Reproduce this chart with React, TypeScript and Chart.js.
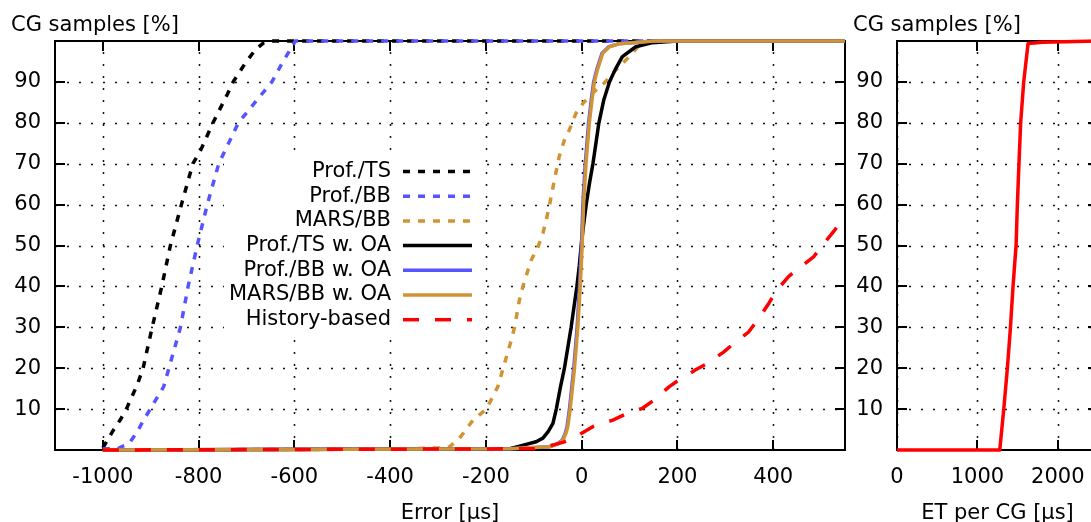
import React, { useEffect, useRef } from 'react';
import { Chart, registerables } from 'chart.js';

Chart.register(...registerables);

const FONT_FAMILY = '"DejaVu Sans", Verdana, sans-serif';
const FONT_SIZE = 21;

// ---- Left panel: Error [µs] vs CG samples [%] ----
const profTsX = [-1000, -980, -963, -951, -928, -916, -897, -877, -859, -836, -812, -795, -770, -740, -728, -703, -682, -665, -650, 550];
const profTsY = [0.5, 4.5, 7.5, 10, 16, 20, 30, 40, 50, 60, 70, 73.5, 80, 87, 90, 94.5, 97.8, 99.5, 100, 100];

const profBbX = [-1000, -970, -945, -928, -915, -901, -873, -862, -838, -822, -803, -782, -758, -717, -678, -647, -626, -598, 550];
const profBbY = [0.3, 0.3, 1.6, 4.5, 7.3, 10, 15.5, 20, 30, 40, 50, 60, 70, 80, 85.6, 90, 94.5, 100, 100];

const marsBbX = [-1000, -400, -300, -276, -255, -227, -199, -175, -161, -147, -140, -130, -122, -112, -105, -91, -81, -74, -67, -57, -47, -36, -26, -12, 3, 16, 30, 47, 65, 85, 106, 120, 150, 550];
const marsBbY = [0, 0.2, 0.5, 0.8, 2.9, 7.3, 10, 15.5, 21.2, 26.9, 30.1, 36.7, 40.3, 44, 46.5, 49.7, 53, 56.2, 60, 66, 71.7, 75.8, 78.2, 82.3, 84.8, 86.4, 88, 89.7, 92.1, 94.5, 97, 99, 100, 100];

const profTsOaX = [-1000, -150, -122, -95, -81, -70, -60, -53, -45, -36, -29, -22, -16, -10, -5, -1, 4, 9.5, 16, 23.5, 36, 46, 58, 70, 85, 113, 148, 200, 550];
const profTsOaY = [0, 0.3, 1.2, 2, 2.9, 4.5, 6.5, 10, 15, 20, 25, 30, 35, 40, 45, 50, 55, 60, 65, 70, 80, 85.5, 90, 93, 96.2, 98.6, 99.6, 100, 100];

const profBbOaX = [-1000, -150, -67, -51, -40.5, -34.5, -30.5, -25.5, -16.5, -9.5, -4.5, -0.5, 2.5, 7.5, 14.5, 20.5, 25, 31.5, 42.5, 56.5, 77, 105, 150, 550];
const profBbOaY = [0, 0.3, 0.8, 1.5, 2.4, 4, 5.7, 10, 20, 30, 40, 50, 60, 70, 80, 86, 90, 93, 97, 98.6, 99.3, 99.6, 100, 100];

const marsBbOaX = [-1000, -150, -67, -50, -39, -33, -29, -24, -15, -8, -3, 1, 4, 9, 16, 22, 26.5, 33, 44, 58, 78, 106, 150, 550];
const marsBbOaY = [0, 0.3, 0.8, 1.5, 2.4, 4, 5.7, 10, 20, 30, 40, 50, 60, 70, 80, 86, 90, 93, 97, 98.6, 99.3, 99.6, 100, 100];

const historyX = [-1000, -100, -60, -36, -15, 0, 23, 65, 89, 127, 151, 183, 203, 238, 263, 297, 318, 349, 370, 391, 408, 432, 453, 485, 506, 526, 550];
const historyY = [0, 0.3, 1.2, 2, 3, 4.1, 5.7, 7.3, 8.6, 10.2, 12.2, 15.5, 17.1, 19.6, 21.2, 24, 26.1, 28.9, 32.2, 35.9, 39.1, 42.4, 44.4, 47.3, 50.5, 53.4, 57];

// ---- Right panel: ET per CG [µs] vs CG samples [%] ----
const etX = [0, 1278, 1328, 1373, 1411, 1443, 1481, 1497, 1517, 1538, 1576, 1630, 1815, 2500];
const etY = [0, 0, 10, 20, 30, 40, 50, 60, 70, 80, 90, 99.4, 99.7, 100];

// ---- Ticks & labels ----
const errorTicks = [-1000, -800, -600, -400, -200, 0, 200, 400];
const etTicks = [0, 1000, 2000];
const pctTicks = [10, 20, 30, 40, 50, 60, 70, 80, 90];

const seriesNames = ['Prof./TS', 'Prof./BB', 'MARS/BB', 'Prof./TS w. OA', 'Prof./BB w. OA', 'MARS/BB w. OA', 'History-based'];
const seriesX = [profTsX, profBbX, marsBbX, profTsOaX, profBbOaX, marsBbOaX, historyX];
const seriesY = [profTsY, profBbY, marsBbY, profTsOaY, profBbOaY, marsBbOaY, historyY];

// styles
const seriesColors = ['#000000', '#5555ff', '#d09434', '#000000', '#5555ff', '#d09434', '#ff0000'];
const seriesDash: number[][] = [[7, 8], [7, 8], [7, 8], [], [], [], [16, 16]];

function pts(xs: number[], ys: number[]) {
  return xs.map((x, i) => ({ x, y: ys[i] }));
}

const font = { family: FONT_FAMILY, size: FONT_SIZE };

function makeDecor(xTitle: string, withLegend: boolean) {
  return {
    id: 'decor',
    beforeDatasetsDraw(chart: any) {
      const { ctx, chartArea: a } = chart;
      const xs = chart.scales.x;
      const ys = chart.scales.y;
      ctx.save();
      // dotted grid
      ctx.strokeStyle = '#111';
      ctx.lineWidth = 1.5;
      ctx.setLineDash([2, 10]);
      for (const t of xs.ticks) {
        const px = Math.round(xs.getPixelForValue(t.value)) + 0.5;
        ctx.beginPath();
        ctx.moveTo(px, a.bottom);
        ctx.lineTo(px, a.top);
        ctx.stroke();
      }
      for (const t of ys.ticks) {
        const py = Math.round(ys.getPixelForValue(t.value)) + 0.5;
        ctx.beginPath();
        ctx.moveTo(a.left, py);
        ctx.lineTo(a.right, py);
        ctx.stroke();
      }
      ctx.setLineDash([]);

      if (withLegend) {
        const rows = [171.5, 196.2, 220.9, 245.6, 270.3, 295, 319.7];
        ctx.fillStyle = '#fff';
        ctx.fillRect(224, 160, 258, 171);
        ctx.font = `${FONT_SIZE}px ${FONT_FAMILY}`;
        ctx.textAlign = 'right';
        ctx.textBaseline = 'middle';
        seriesNames.forEach((name, i) => {
          ctx.fillStyle = '#000';
          ctx.fillText(name, 391, rows[i]);
          ctx.strokeStyle = seriesColors[i];
          ctx.lineWidth = 3.5;
          ctx.lineCap = 'butt';
          ctx.setLineDash(seriesDash[i]);
          ctx.beginPath();
          ctx.moveTo(403, rows[i]);
          ctx.lineTo(472, rows[i]);
          ctx.stroke();
        });
        ctx.setLineDash([]);
      }

      // frame
      ctx.strokeStyle = '#000';
      ctx.lineWidth = 2;
      ctx.strokeRect(a.left, a.top, a.right - a.left, a.bottom - a.top);
      // inward tick marks (mirrored)
      const L = 10;
      ctx.beginPath();
      for (const t of xs.ticks) {
        const px = Math.round(xs.getPixelForValue(t.value));
        ctx.moveTo(px, a.bottom);
        ctx.lineTo(px, a.bottom - L);
        ctx.moveTo(px, a.top);
        ctx.lineTo(px, a.top + L);
      }
      for (const t of ys.ticks) {
        const py = Math.round(ys.getPixelForValue(t.value));
        ctx.moveTo(a.left, py);
        ctx.lineTo(a.left + L, py);
        ctx.moveTo(a.right, py);
        ctx.lineTo(a.right - L, py);
      }
      ctx.stroke();

      // titles
      ctx.fillStyle = '#000';
      ctx.font = `${FONT_SIZE}px ${FONT_FAMILY}`;
      ctx.textBaseline = 'alphabetic';
      ctx.textAlign = 'left';
      ctx.fillText('CG samples [%]', a.left - 44, 30.5);
      ctx.textAlign = 'center';
      ctx.fillText(xTitle, (a.left + a.right) / 2, 519);
      ctx.restore();
    },
  };
}

function makeScales(min: number, max: number, xTicks: number[], yWidth: number) {
  return {
    x: {
      type: 'linear' as const,
      min,
      max,
      afterBuildTicks: (s: any) => {
        s.ticks = xTicks.map((v) => ({ value: v }));
      },
      afterFit: (s: any) => {
        s.height = 72;
      },
      grid: { display: false, drawTicks: false },
      border: { display: false },
      ticks: {
        autoSkip: false,
        maxRotation: 0,
        minRotation: 0,
        padding: 15,
        color: '#000',
        font,
        callback: (v: any) => String(v),
      },
    },
    y: {
      type: 'linear' as const,
      min: 0,
      max: 100,
      afterBuildTicks: (s: any) => {
        s.ticks = pctTicks.map((v) => ({ value: v }));
      },
      afterFit: (s: any) => {
        s.width = yWidth;
      },
      grid: { display: false, drawTicks: false },
      border: { display: false },
      ticks: {
        autoSkip: false,
        padding: 14,
        color: '#000',
        font,
        callback: (v: any) => String(v),
      },
    },
  };
}

export default function App() {
  const leftRef = useRef<HTMLCanvasElement>(null);
  const rightRef = useRef<HTMLCanvasElement>(null);

  useEffect(() => {
    const left = new Chart(leftRef.current as HTMLCanvasElement, {
      type: 'line',
      data: {
        datasets: seriesNames.map((name, i) => ({
          label: name,
          data: pts(seriesX[i], seriesY[i]),
          borderColor: seriesColors[i],
          backgroundColor: seriesColors[i],
          borderWidth: 3.5,
          borderDash: seriesDash[i],
          borderCapStyle: 'butt' as const,
          borderJoinStyle: 'round' as const,
          pointRadius: 0,
          tension: 0,
          fill: false,
          clip: 4,
          order: 20 - i,
        })),
      },
      options: {
        responsive: false,
        devicePixelRatio: 1,
        animation: false,
        events: [],
        layout: { padding: { top: 41, right: 5, left: 0, bottom: 0 } },
        plugins: { legend: { display: false }, tooltip: { enabled: false } },
        scales: makeScales(-1100, 550, errorTicks, 55),
      },
      plugins: [makeDecor('Error [µs]', true)],
    });

    const right = new Chart(rightRef.current as HTMLCanvasElement, {
      type: 'line',
      data: {
        datasets: [
          {
            label: 'History-based',
            data: pts(etX, etY),
            borderColor: '#ff0000',
            borderWidth: 3.5,
            borderJoinStyle: 'round' as const,
            pointRadius: 0,
            tension: 0,
            fill: false,
            clip: 4,
          },
        ],
      },
      options: {
        responsive: false,
        devicePixelRatio: 1,
        animation: false,
        events: [],
        layout: { padding: { top: 41, right: 12, left: 0, bottom: 0 } },
        plugins: { legend: { display: false }, tooltip: { enabled: false } },
        scales: makeScales(0, 2500, etTicks, 49),
      },
      plugins: [makeDecor('ET per CG [µs]', false)],
    });

    return () => {
      left.destroy();
      right.destroy();
    };
  }, []);

  return (
    <div
      style={{
        position: 'fixed',
        left: 0,
        top: 0,
        width: 1091,
        height: 522,
        overflow: 'hidden',
        background: '#fff',
      }}
    >
      <canvas
        ref={leftRef}
        width={850}
        height={522}
        style={{ position: 'absolute', left: 0, top: 0, width: 850, height: 522 }}
      />
      <canvas
        ref={rightRef}
        width={262}
        height={522}
        style={{ position: 'absolute', left: 848, top: 0, width: 262, height: 522 }}
      />
    </div>
  );
}
